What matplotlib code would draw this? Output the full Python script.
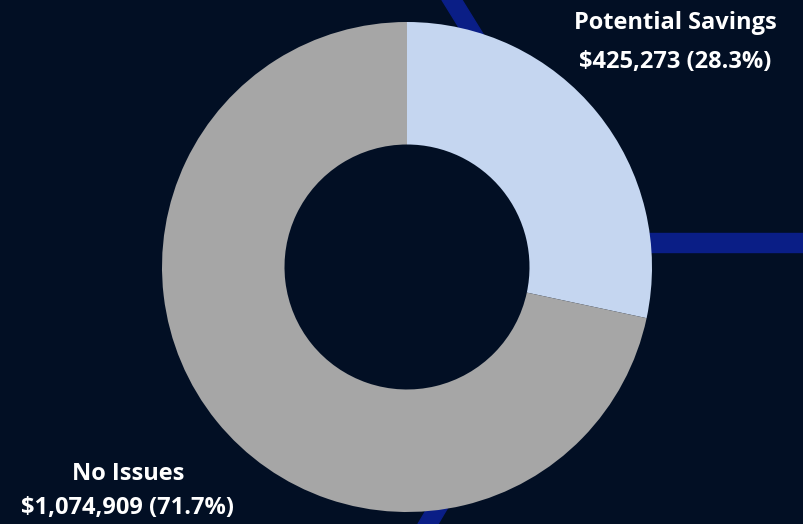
import matplotlib.pyplot as plt
from matplotlib.patches import Polygon

# Daten
labels = ["Potential Savings", "No Issues"]
values = [425273, 1074909]
colors = ["#c5d6f0", "#a6a6a6"]

bg = "#020f24"

fig = plt.figure(figsize=(8.04, 5.24), dpi=100, facecolor=bg)

# Hintergrund-Deko (blaue Streifen), Pixel-Koordinaten -> figure fraction
W, H = 804.0, 524.0
def px(pts):
    return [(x / W, 1 - y / H) for x, y in pts]

band = "#0a1e86"
fig.patches.append(Polygon(px([(442, 0), (462, 0), (530, 110), (510, 110)]),
                           closed=True, transform=fig.transFigure, color=band, zorder=-1))
fig.patches.append(Polygon(px([(600, 233), (804, 233), (804, 252), (600, 252)]),
                           closed=True, transform=fig.transFigure, color=band, zorder=-1))
fig.patches.append(Polygon(px([(462, 450), (482, 450), (438, 524), (418, 524)]),
                           closed=True, transform=fig.transFigure, color=band, zorder=-1))

# Donut: Mitte (407, 267), Radius ~245 px
cx, cy, r = 407, 267, 245
ax = fig.add_axes([(cx - r) / W, 1 - (cy + r) / H, 2 * r / W, 2 * r / H])
ax.set_facecolor("none")
wedges, _ = ax.pie(values, colors=colors, startangle=90, counterclock=False,
                   wedgeprops=dict(width=0.5, edgecolor="none"))
ax.set_xlim(-1, 1)
ax.set_ylim(-1, 1)
ax.set_aspect("equal")
ax.axis("off")

total = sum(values)
font = dict(color="white", fontsize=17, fontweight="bold", family=["Open Sans", "DejaVu Sans"],
            ha="center", va="center")
fig.text(675 / W, 1 - 23 / H, labels[0], **font)
fig.text(675 / W, 1 - 62 / H, "${:,} ({:.1%})".format(values[0], values[0] / total), **font)
fig.text(128 / W, 1 - 474 / H, labels[1], **font)
fig.text(128 / W, 1 - 508 / H, "${:,} ({:.1%})".format(values[1], values[1] / total), **font)

fig.savefig("out.png", dpi=100, facecolor=bg)
